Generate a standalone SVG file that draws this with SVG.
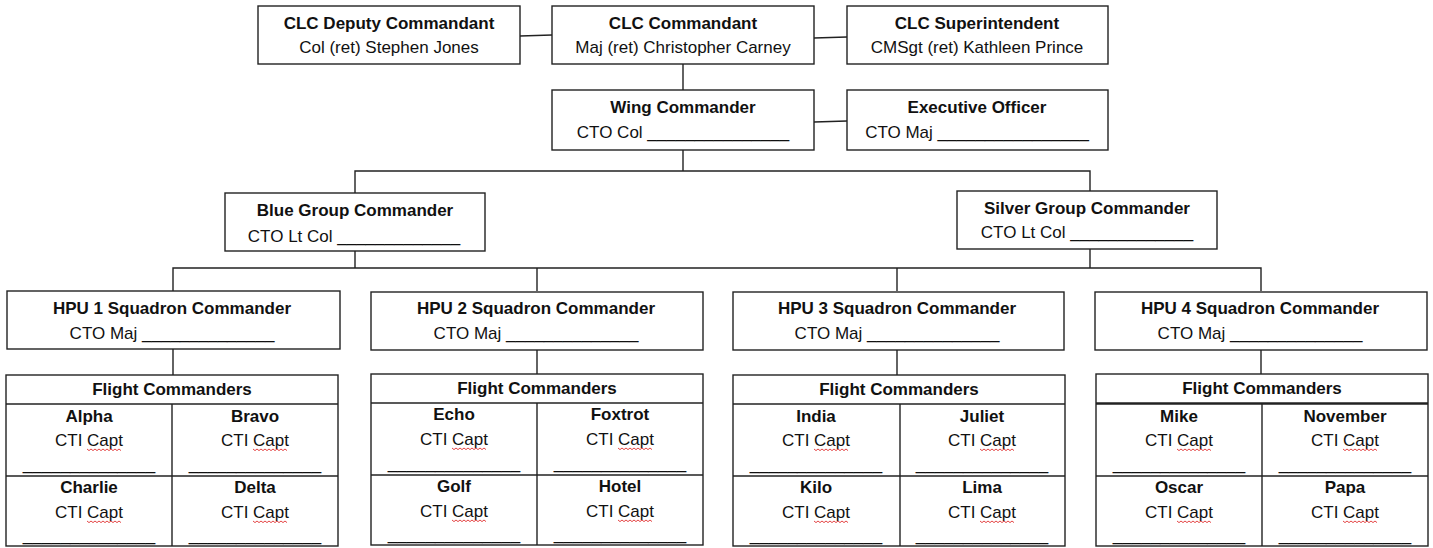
<svg xmlns="http://www.w3.org/2000/svg" xmlns:xlink="http://www.w3.org/1999/xlink" width="1433" height="548" viewBox="0 0 1433 548">
<style>
  .box { fill: #fff; stroke: #222; stroke-width: 1.4; }
  .ln { fill: none; stroke: #222; stroke-width: 1.4; }
  .cn { fill: none; stroke: #222; stroke-width: 1.4; }
  text { font-family: "Liberation Sans", Arial, sans-serif; font-size: 17px; fill: #111; text-anchor: middle; }
  .b { font-weight: bold; }
  .sq { fill: none; stroke: #e03030; stroke-width: 0.9; }
</style>
<defs>
  <path id="sq" class="sq" d="M0 0 l2 1.6 l2 -1.6 l2 1.6 l2 -1.6 l2 1.6 l2 -1.6 l2 1.6 l2 -1.6 l2 1.6 l2 -1.6 l2 1.6 l2 -1.6 l2 1.6 l2 -1.6 l2 1.6 l2 -1.6 l2 1.6"/>
</defs>
<rect width="1433" height="548" fill="#fff"/>

<g id="connectors">
  <line class="cn" x1="520" y1="36" x2="552" y2="35"/>
  <line class="cn" x1="814" y1="38" x2="847" y2="37"/>
  <line class="cn" x1="683" y1="64" x2="683" y2="90"/>
  <line class="cn" x1="814" y1="122" x2="847" y2="121"/>
  <polyline class="cn" points="683,150 683,171"/>
  <polyline class="cn" points="355,193 355,171 1090,171 1090,191"/>
  <line class="cn" x1="355" y1="251" x2="355" y2="268"/>
  <line class="cn" x1="1090" y1="249" x2="1090" y2="268"/>
  <polyline class="cn" points="173,291 173,268 1261,268 1261,291"/>
  <line class="cn" x1="537" y1="268" x2="537" y2="291"/>
  <line class="cn" x1="897" y1="268" x2="897" y2="291"/>
  <line class="cn" x1="173" y1="349" x2="173" y2="375"/>
  <line class="cn" x1="537" y1="350" x2="537" y2="374"/>
  <line class="cn" x1="897" y1="350" x2="897" y2="375"/>
  <line class="cn" x1="1261" y1="350" x2="1261" y2="374"/>
</g>

<g id="deputy">
  <rect class="box" x="258" y="6" width="262" height="58"/>
  <text class="b" x="389" y="29">CLC Deputy Commandant</text>
  <text x="389" y="53">Col (ret) Stephen Jones</text>
</g>
<g id="commandant">
  <rect class="box" x="552" y="6" width="262" height="58"/>
  <text class="b" x="683" y="29">CLC Commandant</text>
  <text x="683" y="53">Maj (ret) Christopher Carney</text>
</g>
<g id="superintendent">
  <rect class="box" x="847" y="6" width="261" height="58"/>
  <text class="b" x="977" y="29">CLC Superintendent</text>
  <text x="977" y="53">CMSgt (ret) Kathleen Prince</text>
</g>
<g id="wing">
  <rect class="box" x="552" y="90" width="262" height="60"/>
  <text class="b" x="683" y="113">Wing Commander</text>
  <text x="683" y="138">CTO Col _______________</text>
</g>
<g id="exec">
  <rect class="box" x="847" y="90" width="261" height="60"/>
  <text class="b" x="977" y="113">Executive Officer</text>
  <text x="977" y="138">CTO Maj ________________</text>
</g>
<g id="blue">
  <rect class="box" x="225" y="193" width="260" height="58"/>
  <text class="b" x="355" y="216">Blue Group Commander</text>
  <text x="354" y="242">CTO Lt Col _____________</text>
</g>
<g id="silver">
  <rect class="box" x="957" y="191" width="260" height="58"/>
  <text class="b" x="1087" y="214">Silver Group Commander</text>
  <text x="1087" y="238">CTO Lt Col _____________</text>
</g>

<g id="hpu1">
  <rect class="box" x="7" y="291" width="333" height="58"/>
  <text class="b" x="172" y="314">HPU 1 Squadron Commander</text>
  <text x="172" y="339">CTO Maj ______________</text>
</g>
<g id="hpu2">
  <rect class="box" x="371" y="292" width="332" height="58"/>
  <text class="b" x="536" y="314">HPU 2 Squadron Commander</text>
  <text x="536" y="339">CTO Maj ______________</text>
</g>
<g id="hpu3">
  <rect class="box" x="733" y="292" width="331" height="58"/>
  <text class="b" x="897" y="314">HPU 3 Squadron Commander</text>
  <text x="897" y="339">CTO Maj ______________</text>
</g>
<g id="hpu4">
  <rect class="box" x="1095" y="292" width="332" height="58"/>
  <text class="b" x="1260" y="314">HPU 4 Squadron Commander</text>
  <text x="1260" y="339">CTO Maj ______________</text>
</g>

<g id="flight1">
  <rect class="box" x="6" y="375" width="332" height="171"/>
  <line class="ln" x1="6" y1="404" x2="338" y2="404"/>
  <line class="ln" x1="6" y1="476" x2="338" y2="476"/>
  <line class="ln" x1="172" y1="404" x2="172" y2="546"/>
  <text class="b" x="172" y="395">Flight Commanders</text>
  <text class="b" x="89" y="422">Alpha</text>
  <text x="89" y="446">CTI Capt</text>
  <use xlink:href="#sq" x="87" y="449"/>
  <text x="89" y="470">______________</text>
  <text class="b" x="255" y="422">Bravo</text>
  <text x="255" y="446">CTI Capt</text>
  <use xlink:href="#sq" x="253" y="449"/>
  <text x="255" y="470">______________</text>
  <text class="b" x="89" y="493">Charlie</text>
  <text x="89" y="518">CTI Capt</text>
  <use xlink:href="#sq" x="87" y="521"/>
  <text x="89" y="541">______________</text>
  <text class="b" x="255" y="493">Delta</text>
  <text x="255" y="518">CTI Capt</text>
  <use xlink:href="#sq" x="253" y="521"/>
  <text x="255" y="541">______________</text>
</g>

<g id="flight2">
  <rect class="box" x="371" y="374" width="332" height="171"/>
  <line class="ln" x1="371" y1="403" x2="703" y2="403"/>
  <line class="ln" x1="371" y1="475" x2="703" y2="475"/>
  <line class="ln" x1="537" y1="403" x2="537" y2="545"/>
  <text class="b" x="537" y="394">Flight Commanders</text>
  <text class="b" x="454" y="420">Echo</text>
  <text x="454" y="445">CTI Capt</text>
  <use xlink:href="#sq" x="452" y="448"/>
  <text x="454" y="469">______________</text>
  <text class="b" x="620" y="420">Foxtrot</text>
  <text x="620" y="445">CTI Capt</text>
  <use xlink:href="#sq" x="618" y="448"/>
  <text x="620" y="469">______________</text>
  <text class="b" x="454" y="492">Golf</text>
  <text x="454" y="517">CTI Capt</text>
  <use xlink:href="#sq" x="452" y="520"/>
  <text x="454" y="540">______________</text>
  <text class="b" x="620" y="492">Hotel</text>
  <text x="620" y="517">CTI Capt</text>
  <use xlink:href="#sq" x="618" y="520"/>
  <text x="620" y="540">______________</text>
</g>

<g id="flight3">
  <rect class="box" x="733" y="375" width="332" height="171"/>
  <line class="ln" x1="733" y1="404" x2="1065" y2="404"/>
  <line class="ln" x1="733" y1="476" x2="1065" y2="476"/>
  <line class="ln" x1="900" y1="404" x2="900" y2="546"/>
  <text class="b" x="899" y="395">Flight Commanders</text>
  <text class="b" x="816" y="422">India</text>
  <text x="816" y="446">CTI Capt</text>
  <use xlink:href="#sq" x="814" y="449"/>
  <text x="816" y="470">______________</text>
  <text class="b" x="982" y="422">Juliet</text>
  <text x="982" y="446">CTI Capt</text>
  <use xlink:href="#sq" x="980" y="449"/>
  <text x="982" y="470">______________</text>
  <text class="b" x="816" y="493">Kilo</text>
  <text x="816" y="518">CTI Capt</text>
  <use xlink:href="#sq" x="814" y="521"/>
  <text x="816" y="541">______________</text>
  <text class="b" x="982" y="493">Lima</text>
  <text x="982" y="518">CTI Capt</text>
  <use xlink:href="#sq" x="980" y="521"/>
  <text x="982" y="541">______________</text>
</g>

<g id="flight4">
  <rect class="box" x="1096" y="374" width="332" height="172"/>
  <line class="ln" x1="1096" y1="403.5" x2="1428" y2="403.5" style="stroke-width:2.4"/>
  <line class="ln" x1="1096" y1="476" x2="1428" y2="476"/>
  <line class="ln" x1="1262" y1="404" x2="1262" y2="546"/>
  <text class="b" x="1262" y="394">Flight Commanders</text>
  <text class="b" x="1179" y="422">Mike</text>
  <text x="1179" y="446">CTI Capt</text>
  <use xlink:href="#sq" x="1177" y="449"/>
  <text x="1179" y="470">______________</text>
  <text class="b" x="1345" y="422">November</text>
  <text x="1345" y="446">CTI Capt</text>
  <use xlink:href="#sq" x="1343" y="449"/>
  <text x="1345" y="470">______________</text>
  <text class="b" x="1179" y="493">Oscar</text>
  <text x="1179" y="518">CTI Capt</text>
  <use xlink:href="#sq" x="1177" y="521"/>
  <text x="1179" y="541">______________</text>
  <text class="b" x="1345" y="493">Papa</text>
  <text x="1345" y="518">CTI Capt</text>
  <use xlink:href="#sq" x="1343" y="521"/>
  <text x="1345" y="541">______________</text>
</g>
</svg>
